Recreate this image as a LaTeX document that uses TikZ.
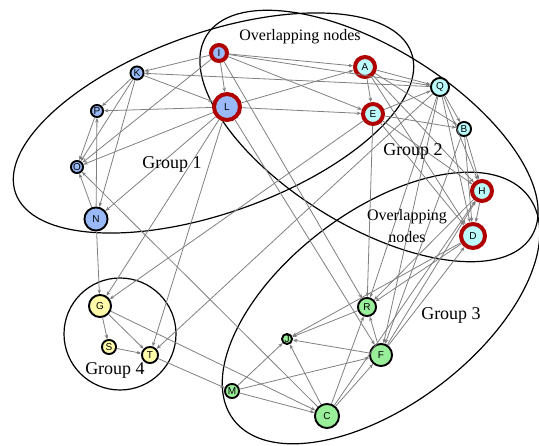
\documentclass[tikz,border=0pt]{standalone}
\usepackage{fontspec}
\setmainfont{Liberation Serif}
\setsansfont{Liberation Sans}
\usetikzlibrary{arrows.meta}
\definecolor{blu}{HTML}{99B9F8}
\definecolor{ciano}{HTML}{BBFBFB}
\definecolor{giallo}{HTML}{FFFBA8}
\definecolor{verde}{HTML}{99EE99}
\definecolor{rosso}{HTML}{B00000}
\begin{document}
\begin{tikzpicture}[x=1pt, y=-1pt,
        nodo/.style={circle, draw=black, line width=1.9pt, inner sep=0pt, font=\sffamily\fontsize{10}{10}\selectfont},
        sovr/.style={draw=rosso, line width=4pt},
        arco/.style={draw=black!50, line width=0.8pt, -{Stealth[length=4.5pt, width=3.5pt]}},
        gruppo/.style={draw=black, line width=1.2pt},
        scritta/.style={font=\fontsize{18}{18}\selectfont}]
    \useasboundingbox (0,0) rectangle (539,446);

    % Contorni dei gruppi
    \draw[gruppo] (213.5,123) circle[x radius=210, y radius=90, rotate=19.5];
    \draw[gruppo] (369,136) circle[x radius=191, y radius=89, rotate=-31.7];
    \draw[gruppo] (381,308) circle[x radius=185, y radius=97, rotate=37.1];
    \draw[gruppo] (120,334) circle[radius=56];

    % Gruppo 1
    \node[nodo, sovr, fill=blu, minimum size=16pt] (I) at (219,53) {I};
    \node[nodo, sovr, fill=blu, minimum size=26pt] (L) at (227,107) {L};
    \node[nodo, fill=blu, minimum size=13.1pt] (K) at (137,73) {K};
    \node[nodo, fill=blu, minimum size=12.1pt] (P) at (97,111) {P};
    \node[nodo, fill=blu, minimum size=12.1pt] (O) at (77,167) {O};
    \node[nodo, fill=blu, minimum size=23.1pt] (N) at (96,219) {N};

    % Gruppo 2
    \node[nodo, sovr, fill=ciano, minimum size=20pt] (A) at (365,67) {A};
    \node[nodo, sovr, fill=ciano, minimum size=20pt] (E) at (373,114) {E};
    \node[nodo, fill=ciano, minimum size=18.1pt] (Q) at (440,87) {Q};
    \node[nodo, fill=ciano, minimum size=14.1pt] (B) at (464,129) {B};
    \node[nodo, sovr, fill=ciano, minimum size=20pt] (H) at (482,191) {H};
    \node[nodo, sovr, fill=ciano, minimum size=24pt] (D) at (473,236) {D};

    % Gruppo 3
    \node[nodo, fill=verde, minimum size=18.1pt] (R) at (367,307) {R};
    \node[nodo, fill=verde, minimum size=10.1pt] (J) at (287,339) {J};
    \node[nodo, fill=verde, minimum size=22.1pt] (F) at (381,355) {F};
    \node[nodo, fill=verde, minimum size=24.1pt] (C) at (327,416) {C};
    \node[nodo, fill=verde, minimum size=14.1pt] (M) at (232,391) {M};

    % Gruppo 4
    \node[nodo, fill=giallo, minimum size=22.1pt] (G) at (100,306) {G};
    \node[nodo, fill=giallo, minimum size=14.1pt] (S) at (109,347) {S};
    \node[nodo, fill=giallo, minimum size=16.1pt] (T) at (150,355) {T};

    % Archi
    \draw[arco] (I) edge (K) edge (O) edge (L) edge (A) edge (Q) edge (E) edge (R);
    \draw[arco] (K) edge (L) edge (P) edge (O) edge (N);
    \draw[arco] (L) edge (P) edge (O) edge (N) edge (E) edge (A) edge (G) edge (T) edge (F);
    \draw[arco] (N) edge (P) edge (O) edge (G);
    \draw[arco] (P) edge (O);
    \draw[arco] (A) edge (Q) edge (E) edge (B) edge (H) edge (D);
    \draw[arco] (E) edge (Q) edge (B) edge (H) edge (D) edge (R) edge (G);
    \draw[arco] (Q) edge (K) edge (B) edge (H) edge (D) edge (R) edge (F) edge (T);
    \draw[arco] (B) edge (H) edge (D) edge (F);
    \draw[arco] (H) edge (D) edge (R);
    \draw[arco] (D) edge (R) edge (J);
    \draw[arco] (G) edge (S) edge (T) edge (C);
    \draw[arco] (S) edge (T);
    \draw[arco] (T) edge (M);
    \draw[arco] (R) edge (J);
    \draw[arco] (F) edge (J) edge (R) edge (D) edge (H);
    \draw[arco] (C) edge (J) edge (R) edge (F) edge (H) edge (O);
    \draw[arco] (M) edge (J) edge (F) edge (C);

    % Etichette
    \node[scritta] (g1) at (172,164) {Group 1};
    \node[scritta] (g2) at (413,151) {Group 2};
    \node[scritta] (g3) at (451,315) {Group 3};
    \node[scritta] (g4) at (115,370) {Group 4};
    \node[font=\fontsize{16}{16}\selectfont] (ov1) at (300,37) {Overlapping nodes};
    \node[font=\fontsize{16}{22}\selectfont, align=center] (ov2) at (407,226) {Overlapping\\nodes};
\end{tikzpicture}
\end{document}
